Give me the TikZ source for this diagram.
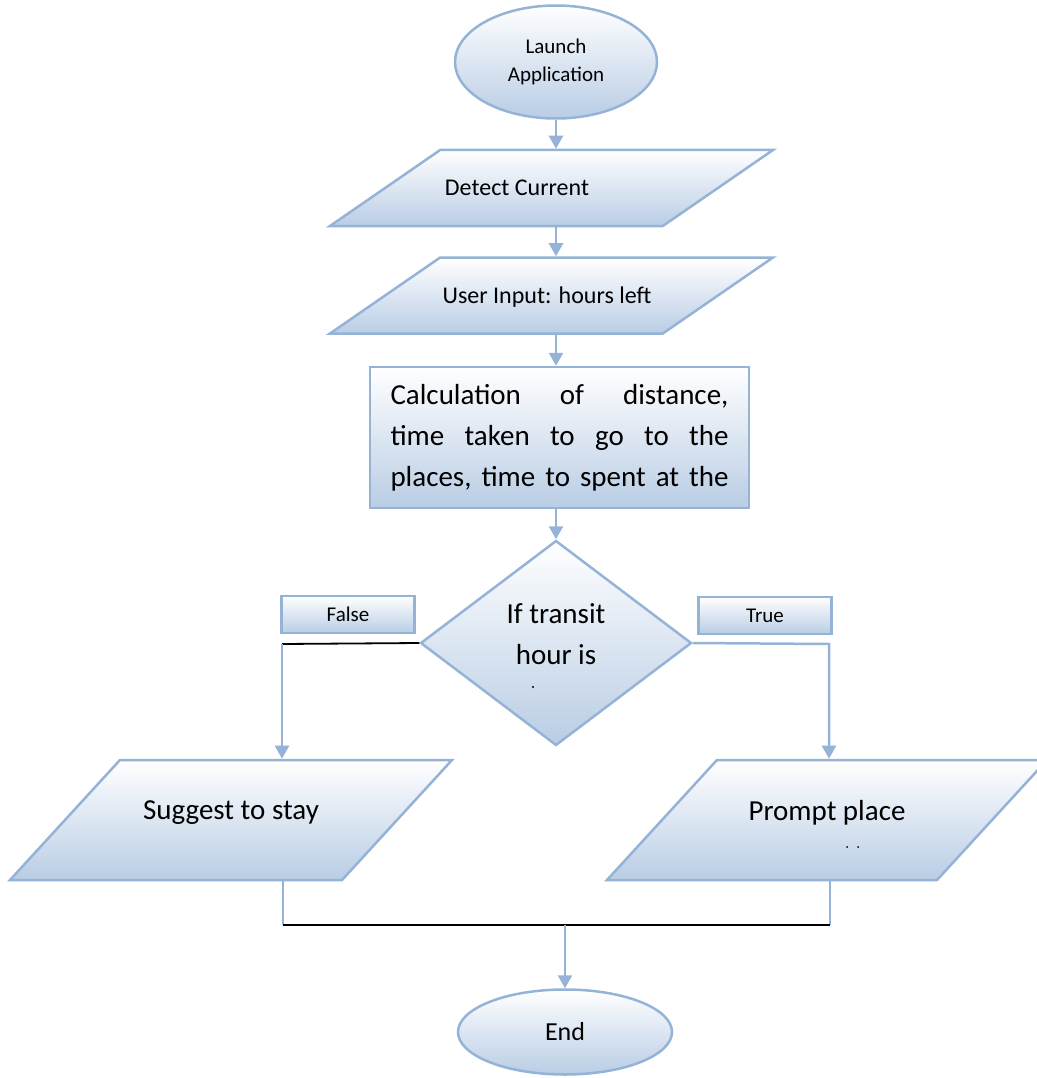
\documentclass[tikz,border=0pt]{standalone}
\usepackage{fontspec}
\setmainfont{Carlito}
\usetikzlibrary{shapes.geometric, arrows.meta}
\definecolor{edgeblue}{RGB}{149,179,215}
\definecolor{shadeblue}{RGB}{185,205,229}

\begin{document}
\begin{tikzpicture}[x=1pt, y=-1pt,
      box/.style={draw=edgeblue, line width=2.5pt, top color=white, bottom color=shadeblue, inner sep=0pt},
      term/.style={box, ellipse},
      io/.style={box, trapezium, trapezium stretches body, text depth=0pt},
      flat/.style={io, minimum width=443pt, text height=76pt, trapezium left angle=34.6, trapezium right angle=145.4},
      tall/.style={io, minimum width=442pt, text height=120pt, trapezium left angle=47.5, trapezium right angle=132.5},
      tag/.style={box, rectangle, minimum width=133pt, minimum height=37pt, font=\fontsize{21}{24}\selectfont},
      txt/.style={align=center, inner sep=0pt},
      small/.style={txt, font=\fontsize{21}{28}\selectfont},
      mid/.style={txt, font=\fontsize{24}{28}\selectfont},
      big/.style={txt, font=\fontsize{29}{41}\selectfont},
      flow/.style={draw=edgeblue, line width=2.5pt, -{Triangle[width=14pt, length=13pt]}},
      link/.style={draw=edgeblue, line width=2.5pt},
      seam/.style={draw=black, line width=1.8pt}]

      \useasboundingbox (0,0) rectangle (1036,1078);

      % Start and inputs
      \node[term, minimum width=202pt, minimum height=113pt, label={[small]center:{Launch\\Application}}] (launch) at (556,62) {};
      \node[flat, label={[mid, xshift=-34.5pt]center:{Detect Current}}] (detect) at (551.5,188) {};
      \node[flat, label={[mid, xshift=-4.5pt, yshift=-1.5pt]center:{User Input: hours left}}] (input) at (551.5,295.5) {};

      % Processing
      \node[box, rectangle, big, minimum width=379pt, minimum height=141pt, text width=338pt] (calc) at (559.5,437.5)
        {\makebox[338pt][s]{Calculation\hfill of\hfill distance,}\\
         \makebox[338pt][s]{time\hfill taken\hfill to\hfill go\hfill to\hfill the}\\
         \makebox[338pt][s]{places,\hfill time\hfill to\hfill spent\hfill at\hfill the}};

      % Decision
      \node[box, diamond, minimum width=271pt, minimum height=205pt, label={[big, yshift=8.5pt]center:{If transit\\hour is}}] (transit) at (556,643) {};
      \fill (533,687) circle (1.2pt);
      \node[tag] (no) at (348,614.5) {False};
      \node[tag] (yes) at (765,615.5) {True};

      % Outputs
      \node[tall, label={[big, yshift=7pt]center:{Suggest to stay}}] (stay) at (231,820) {};
      \node[tall, minimum width=440pt, label={[big, yshift=7pt]center:{Prompt place}}] (prompt) at (827,820) {};
      \fill (847,847) circle (1pt);
      \fill (858,847) circle (1pt);

      \node[term, minimum width=214pt, minimum height=85pt, font=\fontsize{26}{28}\selectfont] (finish) at (565,1032) {End};

      % Main line
      \draw[flow] (launch.south) -- (launch.south |- detect.north);
      \draw[flow] (launch.south |- detect.south) -- (launch.south |- input.north);
      \draw[flow] (launch.south |- input.south) -- (launch.south |- calc.north);
      \draw[flow] (transit.north |- calc.south) -- (transit.north);

      % Branches
      \coordinate (fturn) at (282,644);
      \coordinate (tturn) at (829,644);
      \draw[seam] (transit.west) -- (fturn);
      \draw[flow] (fturn) -- (fturn |- stay.north);
      \draw[flow] (transit.east) -- (tturn) -- (tturn |- prompt.north);

      % Merge
      \coordinate (lfoot) at (283,925);
      \coordinate (rfoot) at (830,925);
      \draw[link] (lfoot |- stay.south) -- (lfoot);
      \draw[link] (rfoot |- prompt.south) -- (rfoot);
      \draw[seam] (lfoot) -- (rfoot);
      \draw[flow] (finish.north |- lfoot) -- (finish.north);
    \end{tikzpicture}
\end{document}
